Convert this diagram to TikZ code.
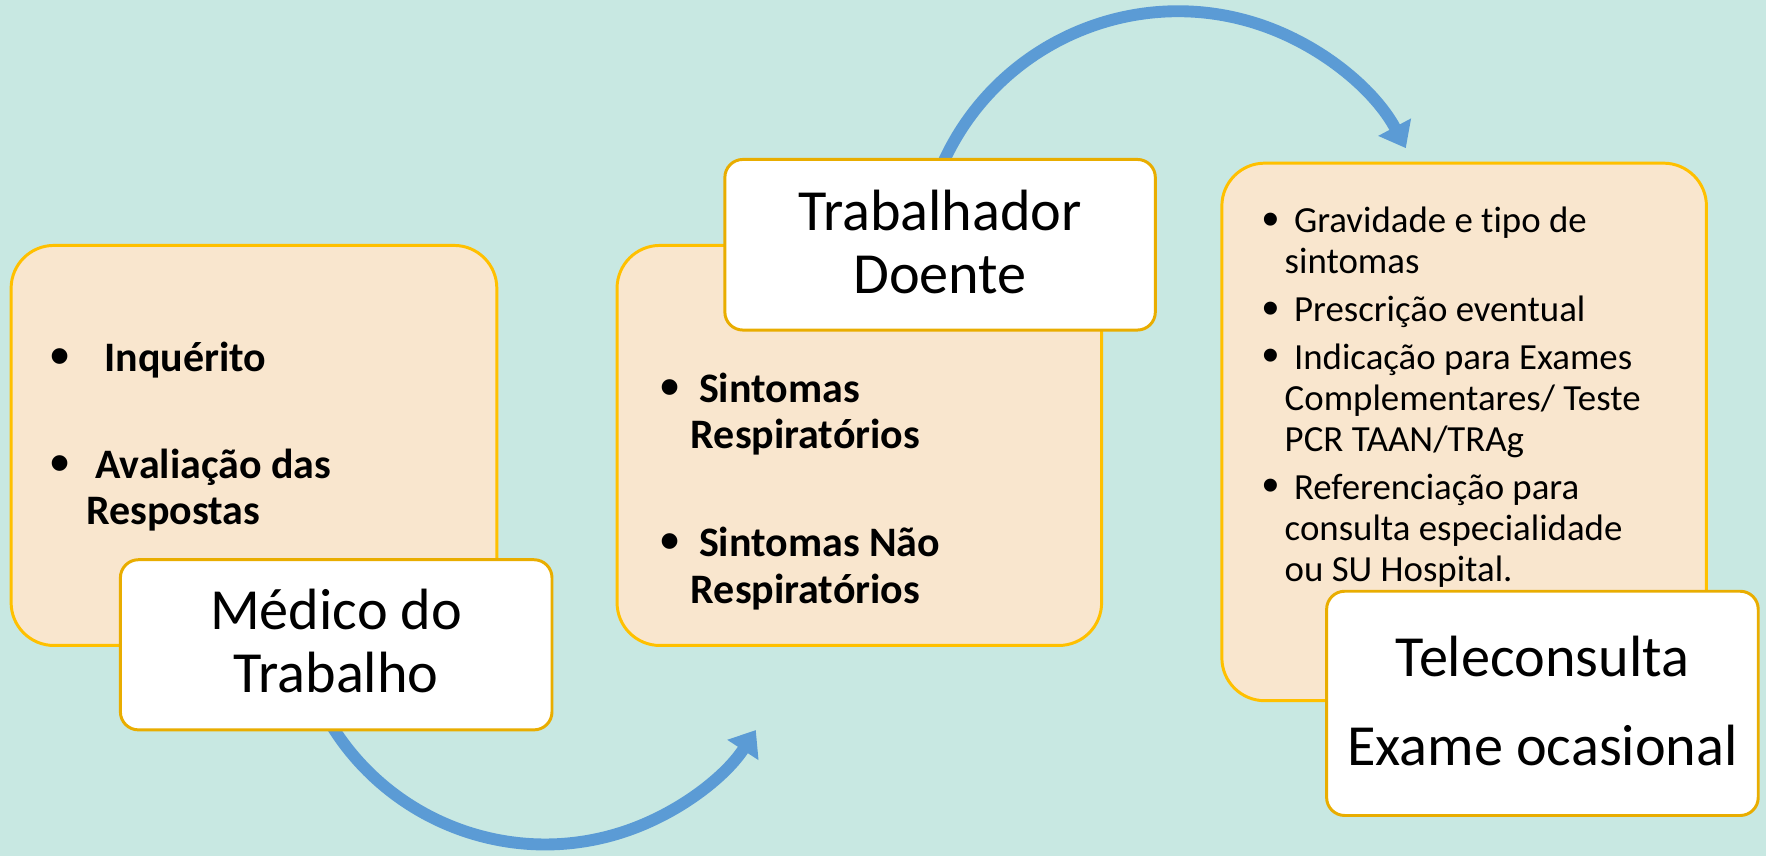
\documentclass[tikz,border=0pt]{standalone}
\usepackage{fontspec}
\usepackage{graphicx}
\setmainfont{Carlito}[Ligatures=NoCommon]
\newfontfamily\bulletfont{Liberation Sans}
\newcommand{\bul}{\raisebox{-0.07em}{\scalebox{1.3}{\bulletfont\symbol{"2022}}}}
\usetikzlibrary{arrows.meta}
\definecolor{bgc}{HTML}{C8E8E2}
\definecolor{beigec}{HTML}{F9E6CE}
\definecolor{goldc}{HTML}{FFC000}
\definecolor{goldd}{HTML}{E9AD00}
\definecolor{arrowc}{HTML}{5B9BD5}
\begin{document}
\begin{tikzpicture}[x=0.01cm,y=-0.01cm,
  panel/.style={draw=goldc, fill=beigec, line width=0.75pt, rounded corners=0.38cm, inner sep=0pt},
  tbox/.style={draw=goldd, fill=white, line width=0.75pt, rounded corners=0.16cm, inner sep=0pt},
  ttl/.style={anchor=base, inner sep=0pt, font=\fontsize{14.7}{16}\selectfont},
  bb/.style={anchor=base west, inner sep=0pt, font=\fontsize{10.6}{12}\selectfont\bfseries},
  rb/.style={anchor=base west, inner sep=0pt, font=\fontsize{9.3}{10.5}\selectfont},
  flow/.style={draw=arrowc, line width=3pt, -{Triangle[length=6pt,width=9pt]}}
]
\fill[bgc] (0,0) rectangle (1568,760);
\useasboundingbox (0,0) rectangle (1568,760);

% beige panels
\node[panel, minimum width=4.31cm, minimum height=3.55cm] (p1) at (225.5,395.5) {};
\node[panel, minimum width=4.30cm, minimum height=3.55cm] (p2) at (763,395.5) {};
\node[panel, minimum width=4.30cm, minimum height=4.77cm] (p3) at (1300,383.5) {};

% arrows
\coordinate (a1s) at (274.5,603);
\draw[flow] (a1s) arc[start angle=160, end angle=33, radius=223];
\coordinate (a2s) at (830.8,160.7);
\draw[flow] (a2s) arc[start angle=200, end angle=332, radius=229];

% white title boxes
\node[tbox, minimum width=3.83cm, minimum height=1.51cm] (w1) at (298.5,572.5) {};
\node[tbox, minimum width=3.82cm, minimum height=1.514cm] (w2) at (834.7,217.3) {};
\node[tbox, minimum width=3.83cm, minimum height=1.99cm] (w3) at (1369.5,624.5) {};

% titles
\node[ttl] (t1a) at (298.5,559) {Médico do};
\node[ttl] (t1b) at (298.5,615) {Trabalho};
\node[ttl] (t2a) at (834.7,205) {Trabalhador};
\node[ttl] (t2b) at (834.7,261) {Doente};
\node[ttl] (t3a) at (1369.5,601) {Teleconsulta};
\node[ttl] (t3b) at (1369.5,680) {Exame ocasional};

% box 1 bullets
\node[bb] (b1d1) at (44,330) {\bul};
\node[bb] (b1l1) at (92,330) {Inquérito};
\node[bb] (b1d2) at (44,425) {\bul};
\node[bb] (b1l2) at (84,425) {Avaliação das};
\node[bb] (b1l3) at (76,466) {Respostas};

% box 2 bullets
\node[bb] (b2d1) at (586,357) {\bul};
\node[bb] (b2l1) at (620,357) {Sintomas};
\node[bb] (b2l2) at (612.7,398) {Respiratórios};
\node[bb] (b2d2) at (586,494) {\bul};
\node[bb] (b2l3) at (620,494) {Sintomas Não};
\node[bb] (b2l4) at (612.7,535.6) {Respiratórios};

% box 3 bullets
\node[rb] (b3d1) at (1120,206.6) {\bul};
\node[rb] (b3l1) at (1148.3,206.6) {Gravidade e tipo de};
\node[rb] (b3l2) at (1140,243) {sintomas};
\node[rb] (b3d2) at (1120,285.4) {\bul};
\node[rb] (b3l3) at (1148.3,285.4) {Prescrição eventual};
\node[rb] (b3d3) at (1120,327.7) {\bul};
\node[rb] (b3l4) at (1148.3,327.7) {Indicação para Exames};
\node[rb] (b3l5) at (1140,364.3) {Complementares/ Teste};
\node[rb] (b3l6) at (1140,400.8) {PCR TAAN/TRAg};
\node[rb] (b3d4) at (1120,443.1) {\bul};
\node[rb] (b3l7) at (1148.3,443.1) {Referenciação para};
\node[rb] (b3l8) at (1140,479.7) {consulta especialidade};
\node[rb] (b3l9) at (1140,516.2) {ou SU Hospital.};
\end{tikzpicture}
\end{document}
